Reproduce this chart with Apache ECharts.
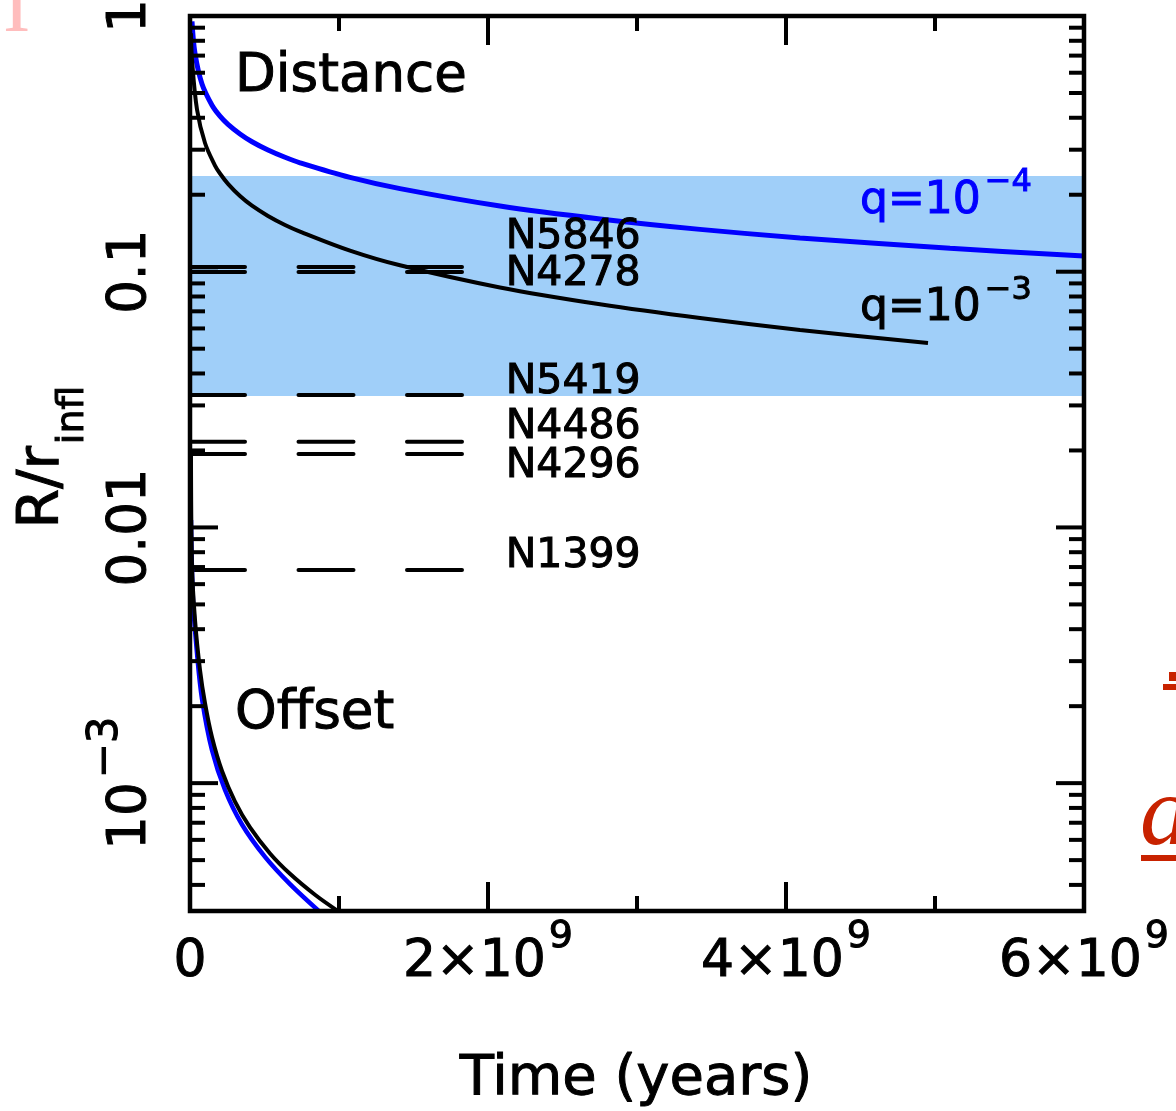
<!DOCTYPE html>
<html>
<head>
<meta charset="utf-8">
<title>R/r_infl versus time</title>
<script src="https://cdn.jsdelivr.net/npm/echarts@6/dist/echarts.min.js"></script>
<style>
  html, body { margin: 0; padding: 0; background: #ffffff; }
  #chart { width: 1176px; height: 1111px; }
</style>
</head>
<body>
<div id="chart"></div>
<script>
// ---- axis ranges -------------------------------------------------------
const X_RANGE = [0, 6e9];                       // time, years
const Y_RANGE = [Math.pow(10, -3.5), 1];        // R / r_infl (log)

// ---- tick marks and tick labels ---------------------------------------
const xMajorTicks = [0, 2e9, 4e9, 6e9];
const xMinorTicks = [1e9, 3e9, 5e9];
const xTickBase = ['0', '2\u00d710', '4\u00d710', '6\u00d710'];
const xTickExp  = ['', '9', '9', '9'];
const yMajorTicks = [1, 0.1, 0.01, 0.001];
const yTickBase = ['1', '0.1', '0.01', '10'];
const yTickExp  = ['', '', '', '\u22123'];

// ---- binary separation, q = 1e-4 (blue) --------------------------------
const distQ4Time = [0.0134e9, 0.0336e9, 0.0805e9, 0.1477e9, 0.2013e9, 0.255e9, 0.3356e9, 0.4161e9,
                    0.5235e9, 0.6376e9, 0.7383e9, 1.0738e9, 1.4094e9, 2.0805e9, 2.7517e9,
                    3.4228e9, 4.094e9, 5.1007e9, 6.0e9];
const distQ4Val  = [0.9534, 0.7141, 0.5421, 0.4479, 0.406, 0.3772, 0.3458, 0.3224,
                    0.2992, 0.2802, 0.2667, 0.2338, 0.2113, 0.1807, 0.1608,
                    0.1464, 0.1356, 0.1235, 0.1152];

// ---- binary separation, q = 1e-3 (black) -------------------------------
const distQ3Time = [0.0067e9, 0.0134e9, 0.047e9, 0.1007e9, 0.1678e9, 0.2013e9, 0.255e9, 0.3356e9,
                    0.4161e9, 0.5235e9, 0.6376e9, 0.7383e9, 1.0738e9, 1.4094e9, 2.0805e9,
                    2.7517e9, 3.4228e9, 4.094e9, 4.953e9];
const distQ3Val  = [0.8564, 0.6761, 0.4308, 0.3187, 0.2602, 0.2421, 0.2206, 0.1977,
                    0.1812, 0.1653, 0.1524, 0.1436, 0.121, 0.106, 0.0868,
                    0.0746, 0.0659, 0.0592, 0.0526];

// ---- centre-of-mass offset, q = 1e-4 (blue) ----------------------------
const offQ4Time = [0.0067e9, 0.0201e9, 0.047e9, 0.0805e9, 0.1477e9, 0.2349e9, 0.349e9,
                   0.5034e9, 0.6711e9, 0.8658e9];
const offQ4Val  = [0.01069, 0.005202, 0.003228, 0.002137, 0.001344, 0.000941, 0.000689,
                   0.000515, 0.000403, 0.000316];

// ---- centre-of-mass offset, q = 1e-3 (black) ---------------------------
const offQ3Time = [0.0067e9, 0.0134e9, 0.0336e9, 0.0671e9, 0.1007e9, 0.1477e9, 0.2148e9,
                   0.302e9, 0.4027e9, 0.5369e9, 0.6711e9, 0.8389e9, 0.9933e9];
const offQ3Val  = [0.02008, 0.007129, 0.004344, 0.002773, 0.002056, 0.001512, 0.001116,
                   0.000847, 0.000671, 0.000531, 0.000442, 0.000366, 0.000316];

// ---- observed core sizes of galaxies (dashed levels) --------------------
const galaxyNames = ['N5846', 'N4278', 'N5419', 'N4486', 'N4296', 'N1399'];
const galaxyVals  = [0.1043, 0.0997, 0.03295, 0.02164, 0.01937, 0.00682];
const galaxySpan  = [0, 1.83e9];

// ---- shaded range -------------------------------------------------------
const bandRange = [0.03265, 0.2367];

// ---- layout / style -----------------------------------------------------
const FAMILY = '"DejaVu Sans", Verdana, sans-serif';
const BLUE = '#0000ff';
const MID = 0.346;                           // baseline offset below a 'middle'-aligned line, in em
const galaxyLabelShift = [-30, 2, -13, -14, 12, -14];

const measureCtx = document.createElement('canvas').getContext('2d');
function textWidth(s, size) {
  measureCtx.font = size + 'px ' + FAMILY;
  return measureCtx.measureText(s).width;
}
function txt(s, x, y, size, color, align) {
  align = align || 'left';
  color = color || '#000';
  return {
    type: 'text', x: x, y: y, silent: true,
    style: {
      text: s, font: size + 'px ' + FAMILY, fill: color,
      stroke: color, lineWidth: 1,
      align: align, verticalAlign: 'middle', textAlign: align, textVerticalAlign: 'middle'
    }
  };
}
// base text followed by a raised (raise > 0) or lowered (raise < 0) smaller part
function supLabel(base, sup, size, supSize, raise, gap, color, anchor) {
  const w1 = textWidth(base, size);
  const w2 = sup ? textWidth(sup, supSize) + gap : 0;
  const x0 = anchor === 'left' ? 0 : -(w1 + w2) / 2;
  const out = [txt(base, x0, 0, size, color)];
  if (sup) {
    out.push(txt(sup, x0 + w1 + gap, MID * size - raise - MID * supSize, supSize, color));
  }
  return out;
}
function pairs(ts, vs) { return ts.map((t, i) => [t, vs[i]]); }

// frame, ticks, tick labels, titles and annotations
function renderFrame(params, api) {
  const kids = [];
  const tl = api.coord([X_RANGE[0], Y_RANGE[1]]);
  const br = api.coord([X_RANGE[1], Y_RANGE[0]]);
  const xl = tl[0], yt = tl[1], xr = br[0], yb = br[1];
  const seg = (x1, y1, x2, y2) => ({
    type: 'line', silent: true,
    shape: { x1: x1, y1: y1, x2: x2, y2: y2 },
    style: { stroke: '#000', lineWidth: 4, lineCap: 'butt' }
  });

  // y ticks (left and right sides)
  const yMinor = [];
  for (let e = -4; e <= -1; e++) {
    for (let m = 2; m <= 9; m++) {
      const v = m * Math.pow(10, e);
      if (v > Y_RANGE[0] && v < Y_RANGE[1]) yMinor.push(v);
    }
  }
  yMinor.forEach(v => {
    const y = api.coord([0, v])[1];
    kids.push(seg(xl, y, xl + 15, y), seg(xr - 15, y, xr, y));
  });
  yMajorTicks.forEach((v, i) => {
    const y = api.coord([0, v])[1];
    kids.push(seg(xl, y, xl + 28, y), seg(xr - 28, y, xr, y));
    kids.push({
      type: 'group', x: xl - 59, y: y, rotation: Math.PI / 2,
      children: supLabel(yTickBase[i], yTickExp[i], 53, 42, 29, 4, '#000')
    });
  });

  // x ticks (bottom and top sides)
  xMinorTicks.forEach(t => {
    const x = api.coord([t, 1])[0];
    kids.push(seg(x, yb, x, yb - 15), seg(x, yt, x, yt + 15));
  });
  xMajorTicks.forEach((t, i) => {
    const x = api.coord([t, 1])[0];
    kids.push(seg(x, yb, x, yb - 29), seg(x, yt, x, yt + 29));
    kids.push({
      type: 'group', x: x, y: yb + 51,
      children: supLabel(xTickBase[i], xTickExp[i], 52, 38, 30, 3, '#000')
    });
  });

  // frame
  kids.push({
    type: 'rect', silent: true,
    shape: { x: xl, y: yt, width: xr - xl, height: yb - yt },
    style: { fill: 'none', stroke: '#000', lineWidth: 4.5 }
  });

  // galaxy names at the end of each dashed level
  galaxyNames.forEach((name, i) => {
    const p = api.coord([galaxySpan[1], galaxyVals[i]]);
    kids.push(txt(name, p[0] + 43, p[1] + galaxyLabelShift[i], 41, '#000'));
  });

  // panel annotations
  kids.push(txt('Distance', xl + 45, 77, 53, '#000'));
  kids.push(txt('Offset', xl + 45, 714, 53, '#000'));
  kids.push({ type: 'group', x: 860, y: 202,
    children: supLabel('q=10', '\u22124', 44, 32, 23, 4, BLUE, 'left') });
  kids.push({ type: 'group', x: 860, y: 309,
    children: supLabel('q=10', '\u22123', 44, 32, 22, 4, '#000', 'left') });

  // axis titles
  kids.push(txt('Time (years)', (xl + xr) / 2 - 1, 1079, 56, '#000', 'center'));
  kids.push({
    type: 'group', x: 43, y: 457, rotation: Math.PI / 2,
    children: supLabel('R/r', 'infl', 57, 38, -24, 2, '#000')
  });

  return { type: 'group', children: kids };
}

const hiddenAxis = {
  show: false,
  axisLine: { show: false }, axisTick: { show: false },
  axisLabel: { show: false }, splitLine: { show: false }
};

const curveBase = {
  type: 'line', showSymbol: false, symbol: 'none', smooth: 0.35,
  silent: true, z: 4, clip: true
};

const series = [
  {
    name: 'band', type: 'line', data: [[0, bandRange[0]]], showSymbol: false, symbol: 'none',
    lineStyle: { width: 0 }, silent: true, z: 1,
    markArea: {
      silent: true,
      itemStyle: { color: '#a0cff9', opacity: 1 },
      data: [[{ yAxis: bandRange[1] }, { yAxis: bandRange[0] }]]
    }
  }
];

galaxyNames.forEach((name, i) => {
  series.push({
    name: name, type: 'line', showSymbol: false, symbol: 'none', silent: true, z: 3,
    data: [[galaxySpan[0], galaxyVals[i]], [galaxySpan[1], galaxyVals[i]]],
    lineStyle: { color: '#000', width: 4, type: [55, 53.5], cap: 'round' }
  });
});

series.push(Object.assign({}, curveBase, {
  name: 'distance q=1e-4', data: pairs(distQ4Time, distQ4Val),
  lineStyle: { color: BLUE, width: 5 }
}));
series.push(Object.assign({}, curveBase, {
  name: 'distance q=1e-3', data: pairs(distQ3Time, distQ3Val),
  lineStyle: { color: '#000', width: 4 }
}));
series.push(Object.assign({}, curveBase, {
  name: 'offset q=1e-4', data: pairs(offQ4Time, offQ4Val),
  lineStyle: { color: BLUE, width: 4.5 }
}));
series.push(Object.assign({}, curveBase, {
  name: 'offset q=1e-3', data: pairs(offQ3Time, offQ3Val),
  lineStyle: { color: '#000', width: 4 }
}));

series.push({
  name: 'frame', type: 'custom', coordinateSystem: 'cartesian2d',
  data: [[0, 1]], renderItem: renderFrame, silent: true, z: 10, clip: false
});

const chart = echarts.init(document.getElementById('chart'), null, { renderer: 'canvas' });
chart.setOption({
  animation: false,
  backgroundColor: '#ffffff',
  grid: { left: 190, top: 16, width: 894, height: 895, containLabel: false, show: false },
  xAxis: Object.assign({ type: 'value', min: X_RANGE[0], max: X_RANGE[1] }, hiddenAxis),
  yAxis: Object.assign({ type: 'log', logBase: 10, min: Y_RANGE[0], max: Y_RANGE[1] }, hiddenAxis),
  graphic: [
    // edge fragments of neighbouring slide text
    { type: 'text', x: 3, y: 9, silent: true,
      style: { text: 'I', font: '82px "Liberation Serif", serif', fill: '#ffbdbd',
               align: 'left', verticalAlign: 'middle', textAlign: 'left', textVerticalAlign: 'middle' } },
    { type: 'text', x: 1140, y: 818, silent: true,
      style: { text: 'a', font: 'italic 100px "Liberation Serif", serif', fill: '#c82200',
               align: 'left', verticalAlign: 'middle', textAlign: 'left', textVerticalAlign: 'middle' } },
    { type: 'rect', silent: true, shape: { x: 1141, y: 855, width: 40, height: 6 }, style: { fill: '#c82200' } },
    { type: 'rect', silent: true, shape: { x: 1163, y: 684, width: 14, height: 6 }, style: { fill: '#c82200' } },
    { type: 'rect', silent: true, shape: { x: 1169, y: 672, width: 8, height: 9 }, style: { fill: '#c82200' } }
  ],
  series: series
});
</script>
</body>
</html>
